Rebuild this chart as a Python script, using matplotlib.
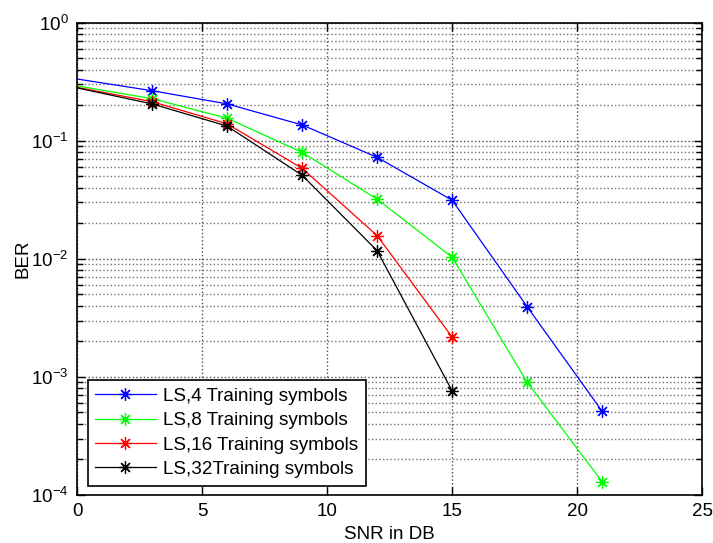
import numpy as np
import matplotlib
matplotlib.use("Agg")
import matplotlib.pyplot as plt
from matplotlib.ticker import LogLocator, NullFormatter

plt.rcParams['font.family'] = ['Liberation Sans', 'DejaVu Sans']

snr = [0, 3, 6, 9, 12, 15, 18, 21]
ber_ls4 = [0.333, 0.265, 0.205, 0.136, 0.0723, 0.0313, 0.00392, 0.00051]
ber_ls8 = [0.291, 0.227, 0.155, 0.0797, 0.032, 0.0103, 0.0009, 0.000129]
ber_ls16 = [0.283, 0.214, 0.139, 0.0584, 0.0157, 0.00217]
ber_ls32 = [0.28, 0.205, 0.133, 0.051, 0.0117, 0.00076]

labels = ['LS,4 Training symbols', 'LS,8 Training symbols',
          'LS,16 Training symbols', 'LS,32Training symbols']
colors = ['#0000ff', '#00ff00', '#ff0000', '#000000']
series = [ber_ls4, ber_ls8, ber_ls16, ber_ls32]

# matlab style asterisk marker
star = (8, 2, 0)

fig = plt.figure(figsize=(7.13, 5.43), dpi=100)
ax = fig.add_axes([0.108, 0.0884, 0.877, 0.87])

for y, c, lab in zip(series, colors, labels):
    x = snr[:len(y)]
    ax.semilogy(x, y, '-', color=c, marker=star, markersize=9, mew=0.9,
                lw=0.9, markevery=slice(1, None), label=lab)

ax.set_xlim(0, 25)
ax.set_ylim(1e-4, 1)
ax.set_xticks([0, 5, 10, 15, 20, 25])
ax.yaxis.set_major_locator(LogLocator(base=10, numticks=10))
ax.yaxis.set_minor_locator(LogLocator(base=10, subs=np.arange(2, 10), numticks=20))
ax.yaxis.set_minor_formatter(NullFormatter())

ax.grid(True, which='major', axis='both', color='0.3', linestyle=':', lw=1.0)
ax.grid(True, which='minor', axis='y', color='0.45', linestyle=':', lw=1.0)

ax.tick_params(which='both', direction='in', top=True, right=True,
               labelsize=13.5, width=1)
ax.tick_params(which='major', length=6, pad=6)
ax.tick_params(which='minor', length=4)
for s in ax.spines.values():
    s.set_linewidth(1.2)

ax.set_xlabel('SNR in DB', fontsize=13.5, labelpad=4)
ax.set_ylabel('BER', fontsize=13.5, labelpad=0)

leg = ax.legend(loc='lower left', bbox_to_anchor=(0.017, 0.02),
                borderaxespad=0, fontsize=13.6, fancybox=False, framealpha=1,
                edgecolor='black', handlelength=3.2, labelspacing=0.38,
                handletextpad=0.4, borderpad=0.4)
leg.get_frame().set_linewidth(1.2)

fig.savefig('out.png', dpi=100)
